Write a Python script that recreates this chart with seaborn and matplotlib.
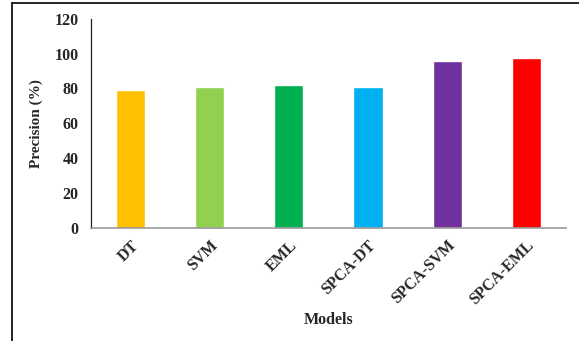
import matplotlib
matplotlib.use("Agg")
import matplotlib.pyplot as plt
from matplotlib.lines import Line2D
import seaborn as sns
import pandas as pd

models = ["DT", "SVM", "EML", "SPCA-DT", "SPCA-SVM", "SPCA-EML"]
precision = [79.0, 80.6, 81.9, 81.0, 95.5, 97.6]
colors = ["#FFC000", "#92D050", "#00B050", "#00B0F0", "#7030A0", "#FF0000"]
y_ticks = [0, 20, 40, 60, 80, 100, 120]

sns.set_style("white")
plt.rcParams["font.family"] = ["Liberation Serif", "DejaVu Serif"]
plt.rcParams["font.weight"] = "bold"

df = pd.DataFrame({"Models": models, "Precision": precision})

fig = plt.figure(figsize=(5.79, 3.41), dpi=100)
ax = fig.add_axes([0.157, 0.332, 0.8205, 0.613])

sns.barplot(data=df, x="Models", y="Precision", hue="Models",
            palette=colors, legend=False, width=0.37, ax=ax,
            saturation=1)

ax.set_ylim(0, 120)
ax.set_yticks(y_ticks)
ax.set_xlim(-0.5, len(models) - 0.5)
ax.tick_params(axis="y", length=0, labelsize=11.5, pad=9)
ax.tick_params(axis="x", length=0, labelsize=11.5, pad=7)
ax.set_xticks(range(len(models)))
ax.set_xticklabels(models, rotation=45, ha="right", rotation_mode="anchor",
                   fontweight="bold")
for lbl in ax.get_yticklabels():
    lbl.set_fontweight("bold")

ax.set_ylabel("Precision (%)", fontsize=11, fontweight="bold", labelpad=8)
ax.set_xlabel("Models", fontsize=11.5, fontweight="bold", labelpad=3)

sns.despine(ax=ax)
ax.spines["left"].set_color("#222222")
ax.spines["left"].set_linewidth(0.9)
ax.spines["bottom"].set_color("#999999")
ax.spines["bottom"].set_linewidth(1.2)

# outer frame lines on the left and top of the figure
fig.add_artist(Line2D([12 / 579, 12 / 579], [0, 1 - 3 / 341],
                      transform=fig.transFigure, color="black", lw=1.2))
fig.add_artist(Line2D([12 / 579, 1], [1 - 3 / 341, 1 - 3 / 341],
                      transform=fig.transFigure, color="black", lw=1.2))

fig.savefig("out.png", dpi=100)
